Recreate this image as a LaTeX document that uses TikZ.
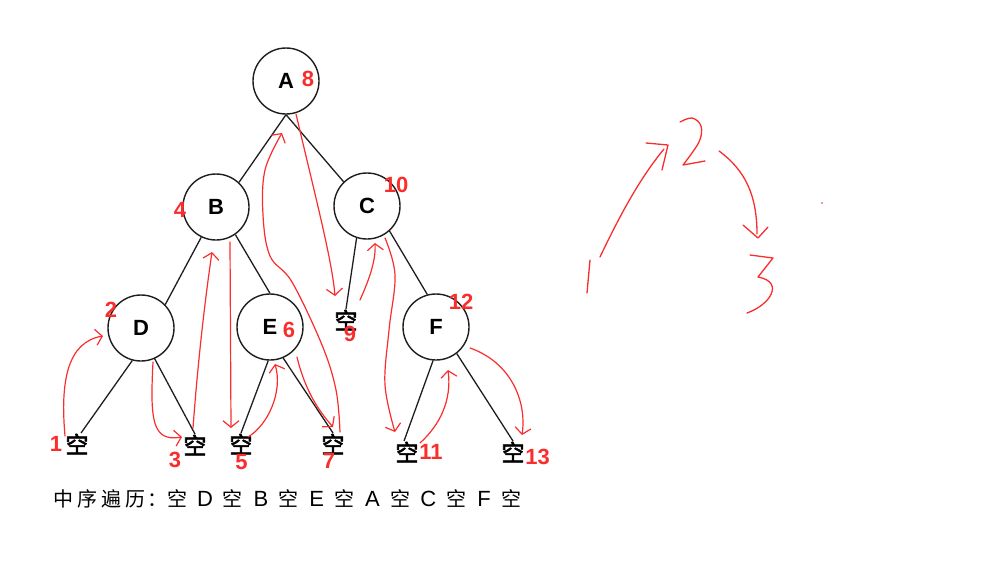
\documentclass[tikz,border=0pt]{standalone}
\usepackage{fontspec}
\setmainfont{Liberation Sans}
\newfontfamily\cjk{Noto Sans CJK SC}
\newfontfamily\cjkmid[FakeBold=2.5]{Noto Sans CJK SC}
\usetikzlibrary{arrows.meta}
\definecolor{ink}{RGB}{30,30,30}
\definecolor{pen}{RGB}{250,45,45}
% fixed-width cells for the caption line
\newcommand\cjkcell[1]{\makebox[24pt]{#1}}
\newcommand\seqcell[1]{\makebox[27.9pt]{#1}}
\newcommand\lat[1]{{\rmfamily\fontsize{22}{22}\selectfont #1}}
\tikzset{
  treenode/.style={circle, draw=ink, line width=1.4pt, minimum size=66pt, inner sep=0pt,
                   font=\fontsize{22}{22}\selectfont\bfseries},
  nullnode/.style={inner sep=0.5pt, font=\cjkmid\fontsize{23}{23}\selectfont},
  order/.style={inner sep=0pt, text=pen, font=\fontsize{22}{22}\selectfont\bfseries},
  edge/.style={draw=ink, line width=1.3pt},
  trace/.style={draw=pen, line width=1.2pt, line cap=round, line join=round,
                -{Straight Barb[length=6.5pt,width=16pt]}},
  scribble/.style={draw=pen, line width=1.3pt, line cap=round, line join=round},
}
\begin{document}
\begin{tikzpicture}[x=1pt,y=-1pt]
\useasboundingbox (0,0) rectangle (992,560);

% tree nodes
\node[treenode] (A) at (286,81) {A};
\node[treenode] (B) at (216,207) {B};
\node[treenode] (C) at (367,206) {C};
\node[treenode] (D) at (141,328) {D};
\node[treenode] (E) at (270,327) {E};
\node[treenode] (F) at (436,327) {F};

% empty children
\node[nullnode] (n1)  at (77,444)  {空};
\node[nullnode] (n3)  at (195,445) {空};
\node[nullnode] (n5)  at (241,444) {空};
\node[nullnode] (n7)  at (333,444) {空};
\node[nullnode] (n9)  at (346,320) {空};
\node[nullnode] (n11) at (407,452) {空};
\node[nullnode] (n13) at (513,452) {空};

% edges
\draw[edge] (A.south) -- (B.47);
\draw[edge] (A.south) -- (C.134);
\draw[edge] (B.-116) -- (D.44);
\draw[edge] (B.-55) -- (E.north);
\draw[edge] (C.-108) -- (n9.north);
\draw[edge] (C.-48) -- (F.105);
\draw[edge] (D.-105) -- ([xshift=4pt]n1.north);
\draw[edge] (D.-66) -- (n3.north);
\draw[edge] (E.-93) -- (n5.north);
\draw[edge] (E.-67) -- (n7.north);
\draw[edge] (F.-95) -- ([xshift=-3pt]n11.north);
\draw[edge] (F.-52) -- (n13.north);

% visiting order
\node[order] (o1)  at (56,444)    {1};
\node[order] (o2)  at (111,310)   {2};
\node[order] (o3)  at (175,459.5) {3};
\node[order] (o4)  at (180,209.5) {4};
\node[order] (o5)  at (241.5,462.5) {5};
\node[order] (o6)  at (289,330)   {6};
\node[order] (o7)  at (329,461)   {7};
\node[order] (o8)  at (308,78.5)  {8};
\node[order] (o9)  at (350,334)   {9};
\node[order] (o10) at (396,185)   {10};
\node[order] (o11) at (431,452)   {11};
\node[order] (o12) at (461,302)   {12};
\node[order] (o13) at (537.5,457) {13};

% traversal trace
\draw[trace] (65,436) .. controls (60,380) and (68,342) .. (103,336);
\draw[trace] (153,362) .. controls (150,420) and (152,442) .. (182,437);
\draw[trace] (193,428) .. controls (198,360) and (205,300) .. (212,252);
\draw[trace] (230,242) -- (231,428);
\draw[trace] (248,437) .. controls (268,425) and (283,392) .. (275,364);
\draw[trace] (297,357) .. controls (305,390) and (318,410) .. (333,427);
\draw[trace] plot[smooth, tension=0.6] coordinates
  {(340,432) (336,390) (322,345) (292,282) (270,256) (263,215) (265,170) (282,133)};
\draw[trace] (296,114) .. controls (315,195) and (332,260) .. (335,296);
\draw[trace] (360,300) .. controls (368,282) and (376,262) .. (375,243);
\draw[trace] plot[smooth, tension=0.6] coordinates
  {(385,238) (395,275) (389,330) (385,385) (395,432)};
\draw[trace] (420,443) .. controls (440,425) and (452,400) .. (448,370);
\draw[trace] (470,348) .. controls (510,362) and (527,400) .. (522,435);

% side sketch: 1 -> 2 -> 3
\draw[scribble] (590,260) -- (587,293);
\draw[scribble] (600,257) .. controls (620,215) and (640,178) .. (664,149);
\draw[scribble] (646,143) -- (668,145) -- (662,170);
\draw[scribble] plot[smooth, tension=0.6] coordinates
  {(680,122) (692,118) (701,126) (699,142) (683,165)} -- (705,161);
\draw[scribble] (719,151) .. controls (745,170) and (757,195) .. (757,234);
\draw[scribble] (743,225) -- (758,238) -- (768,227);
\draw[scribble] (750,255) -- (773,258) -- (758,277)
  .. controls (785,282) and (770,305) .. (747,313);
\fill[pen] (822,203) circle (0.8);

% caption
\node[anchor=west, inner sep=0pt] (caption) at (51,499)
  {\cjk\fontsize{20}{20}\selectfont
   \cjkcell{中}\cjkcell{序}\cjkcell{遍}\cjkcell{历}\makebox[16pt][l]{：}%
   \seqcell{空}\seqcell{\lat{D}}\seqcell{空}\seqcell{\lat{B}}\seqcell{空}\seqcell{\lat{E}}%
   \seqcell{空}\seqcell{\lat{A}}\seqcell{空}\seqcell{\lat{C}}\seqcell{空}\seqcell{\lat{F}}\seqcell{空}};
\end{tikzpicture}
\end{document}
